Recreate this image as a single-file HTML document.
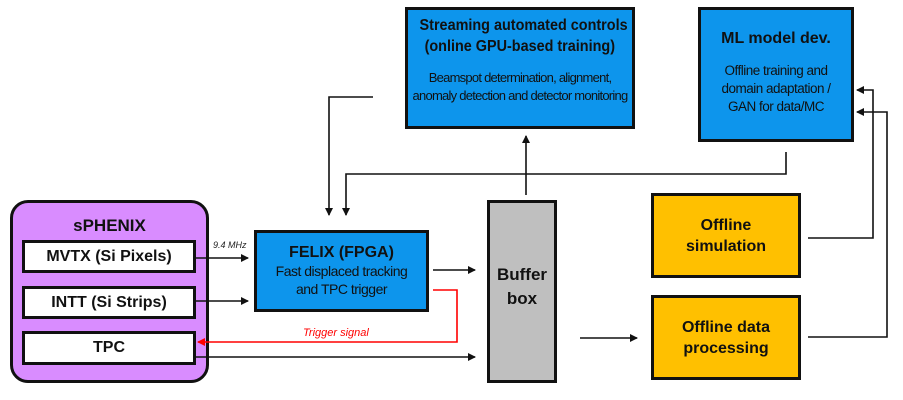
<!DOCTYPE html>
<html><head><style>
body{margin:0;background:#fff;}
.w{position:relative;width:903px;height:400px;overflow:hidden;font-family:"Liberation Sans",sans-serif;}
.b{position:absolute;box-sizing:border-box;border:3px solid #111;text-align:center;color:#111;}
.blue{background:#0d95ec;}
.n{display:inline-block;white-space:nowrap;transform:scaleX(0.9);transform-origin:center;}
.c{white-space:nowrap;letter-spacing:-0.7px;}
svg{position:absolute;left:0;top:0;}
</style></head><body><div class="w">
<div class="b" style="left:10px;top:200px;width:199px;height:183px;border-radius:18px;background:#d98cff;"><div style="font-weight:bold;font-size:17px;margin-top:13px;">sPHENIX</div></div>
<div class="b" style="left:22px;top:240px;width:174px;height:33px;background:#fff;font-weight:bold;font-size:16px;line-height:27px;">MVTX (Si Pixels)</div>
<div class="b" style="left:22px;top:286px;width:174px;height:33px;background:#fff;font-weight:bold;font-size:16px;line-height:27px;">INTT (Si Strips)</div>
<div class="b" style="left:22px;top:331px;width:174px;height:34px;background:#fff;font-weight:bold;font-size:16px;line-height:28px;">TPC</div>
<div class="b blue" style="left:254px;top:230px;width:175px;height:82px;"><div style="font-weight:bold;font-size:16px;margin-top:11px;">FELIX (FPGA)</div><div class="c" style="font-size:14px;line-height:18px;letter-spacing:-0.5px;">Fast displaced tracking<br>and TPC trigger</div></div>
<div class="b blue" style="left:405px;top:7px;width:230px;height:122px;"><div style="font-weight:bold;font-size:16px;line-height:21px;margin-top:5px;"><span class="n">Streaming automated controls</span><br><span class="n">(online GPU-based training)</span></div><div class="c" style="font-size:13px;line-height:18px;margin-top:12px;letter-spacing:-0.75px;">Beamspot determination, alignment,<br>anomaly detection and detector monitoring</div></div>
<div class="b blue" style="left:698px;top:7px;width:156px;height:135px;"><div style="font-weight:bold;font-size:16px;margin-top:20px;">ML model dev.</div><div class="c" style="font-size:13.5px;line-height:18px;margin-top:14px;letter-spacing:-0.5px;">Offline training and<br>domain adaptation /<br>GAN for data/MC</div></div>
<div class="b" style="left:487px;top:200px;width:70px;height:183px;background:#bfbfbf;font-weight:bold;font-size:17px;line-height:24px;padding-top:60px;">Buffer<br>box</div>
<div class="b" style="left:651px;top:193px;width:150px;height:85px;background:#ffc000;font-weight:bold;font-size:16px;line-height:21px;padding-top:19px;">Offline<br>simulation</div>
<div class="b" style="left:651px;top:295px;width:150px;height:85px;background:#ffc000;font-weight:bold;font-size:16px;line-height:21px;padding-top:19px;">Offline data<br>processing</div>
<svg width="903" height="400">
<defs><marker id="a" markerWidth="8" markerHeight="8" refX="7" refY="4" orient="auto" markerUnits="userSpaceOnUse"><path d="M0,0L8,4L0,8z" fill="#111"/></marker>
<marker id="r" markerWidth="8" markerHeight="8" refX="7" refY="4" orient="auto" markerUnits="userSpaceOnUse"><path d="M0,0L8,4L0,8z" fill="#f00"/></marker></defs>
<g stroke="#111" stroke-width="1.6" fill="none">
<path d="M196 258H248" marker-end="url(#a)"/>
<path d="M196 301H248" marker-end="url(#a)"/>
<path d="M433 270H475" marker-end="url(#a)"/>
<path d="M196 357H475" marker-end="url(#a)"/>
<path d="M373 97H329V215" marker-end="url(#a)"/>
<path d="M786 152V174H346V215" marker-end="url(#a)"/>
<path d="M526 195V136" marker-end="url(#a)"/>
<path d="M580 338H637" marker-end="url(#a)"/>
<path d="M808 238H873V90H857" marker-end="url(#a)"/>
<path d="M808 337H887V112H857" marker-end="url(#a)"/>
</g>
<path d="M433 290H457V342H198" stroke="#f00" stroke-width="1.6" fill="none" marker-end="url(#r)"/>
<text x="213" y="248" font-size="9" font-style="italic" font-family="Liberation Sans" fill="#222">9.4 MHz</text>
<text x="303" y="336" font-size="11" font-style="italic" font-family="Liberation Sans" fill="#f00">Trigger signal</text>
</svg>
</div></body></html>
